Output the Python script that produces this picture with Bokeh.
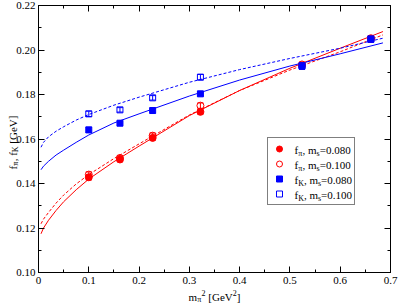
import math
from bokeh.plotting import figure
from bokeh.models import (ColumnDataSource, LinearAxis, FixedTicker, NumeralTickFormatter,
                          Whisker, TeeHead, Legend, LegendItem, Range1d)
from bokeh.core.properties import value, field
from bokeh.embed import file_html
from bokeh.resources import INLINE

# ---- data ----
mpi2 = [0.100, 0.162, 0.227, 0.322, 0.524, 0.661]
fpi_080 = [0.1428, 0.1508, 0.1605, 0.1722, 0.1930, 0.2050]
fpi_100 = [0.1440, 0.1515, 0.1615, 0.1750, 0.1935, 0.2053]
fK_080 = [0.1641, 0.1671, 0.1728, 0.1803, 0.1927, 0.2048]
fK_100 = [0.1713, 0.1731, 0.1785, 0.1878, 0.1930, 0.2050]
err_fpi_080 = [0.0012, 0.0010, 0.0010, 0.0010, 0.0010, 0.0010]
err_fpi_100 = [0.0012, 0.0010, 0.0012, 0.0012, 0.0010, 0.0010]
err_fK_080 = [0.0012, 0.0010, 0.0010, 0.0010, 0.0014, 0.0012]
err_fK_100 = [0.0012, 0.0010, 0.0010, 0.0012, 0.0010, 0.0014]

# fit curves
fit_x = [0.005, 0.01, 0.02, 0.035, 0.05, 0.075, 0.1, 0.15, 0.2, 0.3, 0.4, 0.5, 0.6, 0.685]
fit_fpi_080 = [0.1174, 0.1200, 0.1235, 0.1279, 0.1318, 0.1372, 0.1420, 0.1498, 0.1568,
               0.1705, 0.1818, 0.1918, 0.2008, 0.2083]
fit_fpi_100 = [0.1219, 0.1240, 0.1270, 0.1312, 0.1348, 0.1398, 0.1440, 0.1512, 0.1578,
               0.1708, 0.1818, 0.1910, 0.1992, 0.2068]
fit_fK_080 = [0.1462, 0.1478, 0.1500, 0.1528, 0.1550, 0.1585, 0.1618, 0.1672, 0.1713,
              0.1793, 0.1865, 0.1928, 0.1983, 0.2032]
fit_fK_100 = [0.1563, 0.1585, 0.1610, 0.1635, 0.1655, 0.1685, 0.1710, 0.1752, 0.1788,
              0.1855, 0.1912, 0.1962, 0.2008, 0.2053]

x_ticks = [0.0, 0.1, 0.2, 0.3, 0.4, 0.5, 0.6, 0.7]
x_minor = [0.05, 0.15, 0.25, 0.35, 0.45, 0.55, 0.65]
y_ticks = [0.10, 0.12, 0.14, 0.16, 0.18, 0.20, 0.22]
y_minor = [0.11, 0.13, 0.15, 0.17, 0.19, 0.21]

legend_mesons = ["π", "π", "K", "K"]
legend_ms = ["0.080", "0.100", "0.080", "0.100"]

RED = "#ff0000"
BLUE = "#0000ff"
FONT = "Liberation Serif"

W, H = 398, 305
ML, MR, MT, MB = 38, 8, 5, 33
X0, X1, Y0, Y1 = 0.0, 0.7, 0.10, 0.22
FW = W - ML - MR
FH = H - MT - MB

p = figure(width=W, height=H, output_backend="svg", toolbar_location=None,
           x_range=Range1d(X0, X1), y_range=Range1d(Y0, Y1),
           min_border_left=ML, min_border_right=MR, min_border_top=MT, min_border_bottom=MB,
           x_axis_type=None, y_axis_type=None)
p.xgrid.visible = False
p.ygrid.visible = False
p.outline_line_color = "black"
p.outline_line_width = 1
p.background_fill_color = "white"
p.border_fill_color = "white"

def style_axis(ax, labels=True):
    ax.axis_line_color = "black"
    ax.major_tick_line_color = "black"
    ax.minor_tick_line_color = "black"
    ax.major_tick_in = 6
    ax.major_tick_out = 0
    ax.minor_tick_in = 3
    ax.minor_tick_out = 0
    ax.major_label_text_font = FONT
    ax.major_label_text_font_size = "11px"
    ax.major_label_text_color = "black"
    ax.major_label_standoff = 4
    if not labels:
        ax.major_label_text_alpha = 0.0
        ax.major_label_standoff = 0

xt = FixedTicker(ticks=x_ticks, minor_ticks=x_minor)
yt = FixedTicker(ticks=y_ticks, minor_ticks=y_minor)

xb = LinearAxis(ticker=xt, formatter=NumeralTickFormatter(format="0.[0]"))
style_axis(xb)
p.add_layout(xb, "below")
xa = LinearAxis(ticker=xt, major_label_overrides={t: "" for t in x_ticks})
style_axis(xa, labels=False)
p.add_layout(xa, "above")
yl = LinearAxis(ticker=yt, formatter=NumeralTickFormatter(format="0.00"))
style_axis(yl)
yl.major_label_standoff = 3
p.add_layout(yl, "left")
yr = LinearAxis(ticker=yt, major_label_overrides={t: "" for t in y_ticks})
style_axis(yr, labels=False)
p.add_layout(yr, "right")

# fit curves
p.line(fit_x, fit_fpi_080, line_color=RED, line_width=1)
p.line(fit_x, fit_fpi_100, line_color=RED, line_width=1, line_dash="3 2")
p.line(fit_x, fit_fK_080, line_color=BLUE, line_width=1)
p.line(fit_x, fit_fK_100, line_color=BLUE, line_width=1, line_dash="3 2")

def series(vals, errs, color, marker, filled, size):
    src = ColumnDataSource(dict(x=mpi2, y=vals,
                                lo=[v - e for v, e in zip(vals, errs)],
                                hi=[v + e for v, e in zip(vals, errs)]))
    w = Whisker(source=src, base="x", lower="lo", upper="hi", line_color=color, line_width=1,
                upper_head=TeeHead(size=6, line_color=color, line_width=1),
                lower_head=TeeHead(size=6, line_color=color, line_width=1))
    p.add_layout(w)
    r = p.scatter("x", "y", source=src, marker=marker, size=size,
                  line_color=color, line_width=1,
                  fill_color=color if filled else "white", fill_alpha=1.0 if filled else 0.0)
    return r

r1 = series(fpi_080, err_fpi_080, RED, "circle", True, 7)
r2 = series(fpi_100, err_fpi_100, RED, "circle", False, 7)
r3 = series(fK_080, err_fK_080, BLUE, "square", True, 6)
r4 = series(fK_100, err_fK_100, BLUE, "square", False, 6)

# ---- rich text (subscripts / superscripts) drawn as text glyphs ----
ADV = {'f': .333, 'π': .55, ',': .25, ' ': .25, 'm': .778, 's': .389, '=': .564,
       '0': .5, '1': .5, '8': .5, '2': .5, '.': .25, 'K': .722, '[': .333, ']': .333,
       'G': .722, 'e': .444, 'V': .722}
MAIN, SMALL = 11, 8

def tw(t, size):
    return sum(ADV.get(c, .5) for c in t) * size

def to_data(sx, sy):
    return X0 + sx * (X1 - X0) / FW, Y0 + sy * (Y1 - Y0) / FH

def rich(parts, x, y, angle=0.0, anchor="left"):
    out = dict(x=[], y=[], text=[], size=[], angle=[])
    sizes = [SMALL if k else MAIN for _, k in parts]
    total = sum(tw(t, s) for (t, _), s in zip(parts, sizes))
    pos = 0.0 if anchor == "left" else -total / 2
    for (t, kind), s in zip(parts, sizes):
        shift = {None: 0, "sub": -3, "sup": 4}[kind]
        lead = len(t) - len(t.lstrip(" "))
        pos += tw(" " * lead, s)
        t = t.lstrip(" ")
        if angle == 0:
            lx, ly = x + pos, y + shift
        else:
            lx, ly = x - shift, y + pos
        dx, dy = to_data(lx, ly)
        out["x"].append(dx); out["y"].append(dy); out["text"].append(t)
        out["size"].append(f"{s}px"); out["angle"].append(angle)
        pos += tw(t, s)
    return out

def draw(chunks, level):
    data = dict(x=[], y=[], text=[], size=[], angle=[])
    for c in chunks:
        for k in data:
            data[k] += c[k]
    p.text(x="x", y="y", text="text", angle="angle", source=ColumnDataSource(data),
           text_font=value(FONT), text_font_size=field("size"), text_color="black",
           text_baseline="middle", text_align="left", level=level)

# legend geometry (frame pixels, from frame bottom-left)
LEG_X, LEG_Y, PAD, ITEM_H, GW, STANDOFF, LW = 229, 67, 3, 15, 16, 8, 56
leg_top = LEG_Y + 2 * PAD + 4 * ITEM_H
tx = LEG_X + PAD + GW + STANDOFF
leg_chunks = []
for i, (meson, ms) in enumerate(zip(legend_mesons, legend_ms)):
    yy = leg_top - PAD - ITEM_H * (i + 0.5)
    leg_chunks.append(rich([("f", None), (meson, "sub"), (", m", None), ("s", "sub"),
                            ("=" + ms, None)], tx, yy))
draw(leg_chunks, "glyph")

legend = Legend(items=[LegendItem(label="\u00a0", renderers=[r]) for r in (r1, r2, r3, r4)],
                location=(LEG_X, LEG_Y), orientation="vertical",
                padding=PAD, spacing=0, margin=0,
                glyph_width=GW, glyph_height=ITEM_H, label_height=ITEM_H, label_width=LW,
                label_standoff=STANDOFF, label_text_font_size="11px",
                border_line_color="black", border_line_width=1,
                background_fill_alpha=0.0)
p.add_layout(legend, "center")

# axis titles
title_chunks = [
    rich([("m", None), ("π", "sub"), ("2", "sup"), (" [GeV", None), ("2", "sup"), ("]", None)],
         FW / 2, -24, anchor="center"),
    rich([("f", None), ("π", "sub"), (", f", None), ("K", "sub"), (" [GeV]", None)],
         -26, 130, angle=math.pi / 2, anchor="center"),
]
draw(title_chunks, "guide")

open("out.html", "w").write(file_html(p, INLINE))
